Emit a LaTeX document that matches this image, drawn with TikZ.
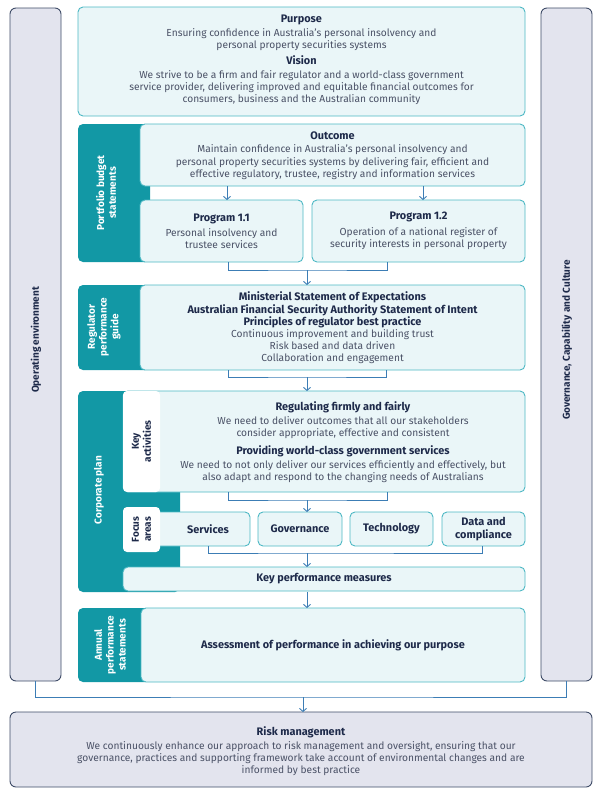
\documentclass[tikz,border=0pt]{standalone}
\usepackage{fontspec}
\setmainfont{Fira Sans}
\usetikzlibrary{arrows.meta}
\definecolor{tealdk}{HTML}{1298A5}
\definecolor{tealbd}{HTML}{4DB8C4}
\definecolor{lightf}{HTML}{EAF6F8}
\definecolor{sidef}{HTML}{E3E4EE}
\definecolor{sidebd}{HTML}{3E4B67}
\definecolor{titlec}{HTML}{1E2A4A}
\definecolor{bodyc}{HTML}{4A5166}
\definecolor{arrc}{HTML}{3C7DB5}
\newcommand{\ttl}[1]{{\fontsize{10.9}{12.2}\selectfont\bfseries\color{titlec}#1}}
\begin{document}
\begin{tikzpicture}[x=1pt,y=-1pt,
  box/.style={draw=tealbd, fill=lightf, line width=0.9pt, rounded corners=5pt, inner sep=0pt, outer sep=0pt, anchor=north west},
  dblk/.style={fill=tealdk, rounded corners=5pt, inner sep=0pt, outer sep=0pt, anchor=north west},
  wlab/.style={fill=white, rounded corners=4pt, inner sep=0pt, outer sep=0pt, anchor=north west},
  sbar/.style={draw=sidebd, fill=sidef, line width=0.9pt, rounded corners=6pt, inner sep=0pt, outer sep=0pt, anchor=north west},
  txt/.style={align=center, font=\fontsize{10.2}{12.2}\selectfont, text=bodyc, inner sep=0pt},
  vlab/.style={align=center, rotate=90, font=\fontsize{10}{11.8}\selectfont\bfseries, text=white, inner sep=0pt},
  slab/.style={rotate=90, font=\fontsize{10}{11}\selectfont\bfseries, text=titlec, inner sep=0pt},
  conn/.style={draw=arrc, line width=0.9pt},
  arr/.style={conn, -{Straight Barb[length=3pt,width=7pt]}}
]
\useasboundingbox (0,0) rectangle (602,796);
% side bars
\node[sbar, minimum width=51pt, minimum height=673pt] (openv) at (10,8) {};
\node[slab] (openvt) at (36,340) {Operating environment};
\node[sbar, minimum width=51pt, minimum height=673pt] (gov) at (541,8) {};
\node[slab] (govt) at (567,340) {Governance, Capability and Culture};
% purpose
\node[box, minimum width=447pt, minimum height=109pt] (purpose) at (78,7) {};
\node[txt] (purposet) at (301.5,60) {\ttl{Purpose}\\[2pt]Ensuring confidence in Australia's personal insolvency and\\personal property securities systems\\[3pt]
\ttl{Vision}\\[2pt]We strive to be a firm and fair regulator and a world-class government\\service provider, delivering improved and equitable financial outcomes for\\consumers, business and the Australian community};
% portfolio budget statements
\node[dblk, minimum width=72pt, minimum height=138pt] (pbs) at (78,124) {};
\node[vlab] (pbst) at (106,193) {Portfolio budget\\statements};
\node[box, minimum width=385pt, minimum height=62pt] (outcome) at (140,124) {};
\node[txt] (outcomet) at (332.5,155.5) {\ttl{Outcome}\\[1.5pt]Maintain confidence in Australia's personal insolvency and\\personal property securities systems by delivering fair, efficient and\\effective regulatory, trustee, registry and information services};
\node[box, minimum width=163pt, minimum height=62pt] (p11) at (140,200) {};
\node[txt] (p11t) at (221.5,231) {\ttl{Program 1.1}\\[3pt]Personal insolvency and\\trustee services};
\node[box, minimum width=213pt, minimum height=62pt] (p12) at (312,200) {};
\node[txt] (p12t) at (418.5,231) {\ttl{Program 1.2}\\[3pt]Operation of a national register of\\security interests in personal property};
% regulator performance guide
\node[dblk, minimum width=72pt, minimum height=85pt] (rpg) at (78,285) {};
\node[vlab] (rpgt) at (104,327) {Regulator\\performance\\guide};
\node[box, minimum width=385pt, minimum height=85pt] (reg) at (140,285) {};
\node[txt] (regt) at (332.5,328) {\ttl{Ministerial Statement of Expectations}\\\ttl{Australian Financial Security Authority Statement of Intent}\\\ttl{Principles of regulator best practice}\\Continuous improvement and building trust\\Risk based and data driven\\Collaboration and engagement};
% corporate plan
\node[dblk, minimum width=102pt, minimum height=201pt] (cp) at (78,391) {};
\node[vlab] (cpt) at (99,490) {Corporate plan};
\node[box, minimum width=402pt, minimum height=101pt] (ka) at (123,391) {};
\node[wlab, minimum width=37pt, minimum height=101pt] (kal) at (123,391) {};
\node[vlab, text=titlec] (kalt) at (141.5,441.5) {Key\\activities};
\node[txt] (kat) at (343,442.5) {\ttl{Regulating firmly and fairly}\\[1.5pt]We need to deliver outcomes that all our stakeholders\\consider appropriate, effective and consistent\\[6pt]
\ttl{Providing world-class government services}\\[1.5pt]We need to not only deliver our services efficiently and effectively, but\\also adapt and respond to the changing needs of Australians};
\node[box, minimum width=100pt, minimum height=34pt] (serv) at (150,512) {};
\node[wlab, minimum width=37pt, minimum height=45pt] (fal) at (123,507) {};
\node[vlab, text=titlec] (falt) at (141.5,529.5) {Focus\\areas};
\node[txt] (servt) at (208,529) {\ttl{Services}};
\node[box, minimum width=84pt, minimum height=34pt] (govn) at (258,512) {};
\node[txt] (govnt) at (300,529) {\ttl{Governance}};
\node[box, minimum width=83pt, minimum height=34pt] (tech) at (350,512) {};
\node[txt] (techt) at (391.5,529) {\ttl{Technology}};
\node[box, minimum width=83pt, minimum height=34pt] (data) at (442,512) {};
\node[txt] (datat) at (483.5,529) {\ttl{Data and}\\\ttl{compliance}};
\node[box, minimum width=402pt, minimum height=24pt] (kpm) at (123,567) {};
\node[txt] (kpmt) at (324,579) {\ttl{Key performance measures}};
% annual performance statements
\node[dblk, minimum width=72pt, minimum height=74pt] (aps) at (78,608) {};
\node[vlab] (apst) at (110,645) {Annual\\performance\\statements};
\node[box, minimum width=384pt, minimum height=74pt] (annual) at (141,608) {};
\node[txt] (annualt) at (333,645) {\ttl{Assessment of performance in achieving our purpose}};
% risk management
\node[sbar, minimum width=582pt, minimum height=75pt] (risk) at (10,712) {};
\node[txt] (riskt) at (301,751) {\ttl{Risk management}\\[2pt]We continuously enhance our approach to risk management and oversight, ensuring that our\\governance, practices and supporting framework take account of environmental changes and are\\informed by best practice};
% connectors
\coordinate (j1) at (307,270);
\coordinate (j2) at (307,377);
\coordinate (j3) at (307,500);
\coordinate (j4) at (307,553);
\coordinate (j5) at (303,697);
\draw[arr] (227,0 |- outcome.south) -- (227,0 |- p11.north);
\draw[arr] (423,0 |- outcome.south) -- (423,0 |- p12.north);
\draw[conn] (228,0 |- p11.south) |- (j1) -| (387,0 |- p12.south);
\draw[arr] (j1) -- (j1 |- reg.north);
\draw[conn] (228,0 |- reg.south) |- (j2) -| (386,0 |- reg.south);
\draw[arr] (j2) -- (j2 |- ka.north);
\draw[conn] (228,0 |- ka.south) |- (j3) -| (387,0 |- ka.south);
\draw[arr] (j3) -- (j3 |- serv.north);
\draw[conn] (208,0 |- serv.south) |- (j4) -| (482,0 |- data.south);
\draw[arr] (j4) -- (j4 |- kpm.north);
\draw[arr] (307,0 |- cp.south) -- (307,0 |- annual.north);
\draw[conn] (openv.south) |- (j5) -| (gov.south);
\draw[arr] (j5) -- (j5 |- risk.north);
\end{tikzpicture}
\end{document}
